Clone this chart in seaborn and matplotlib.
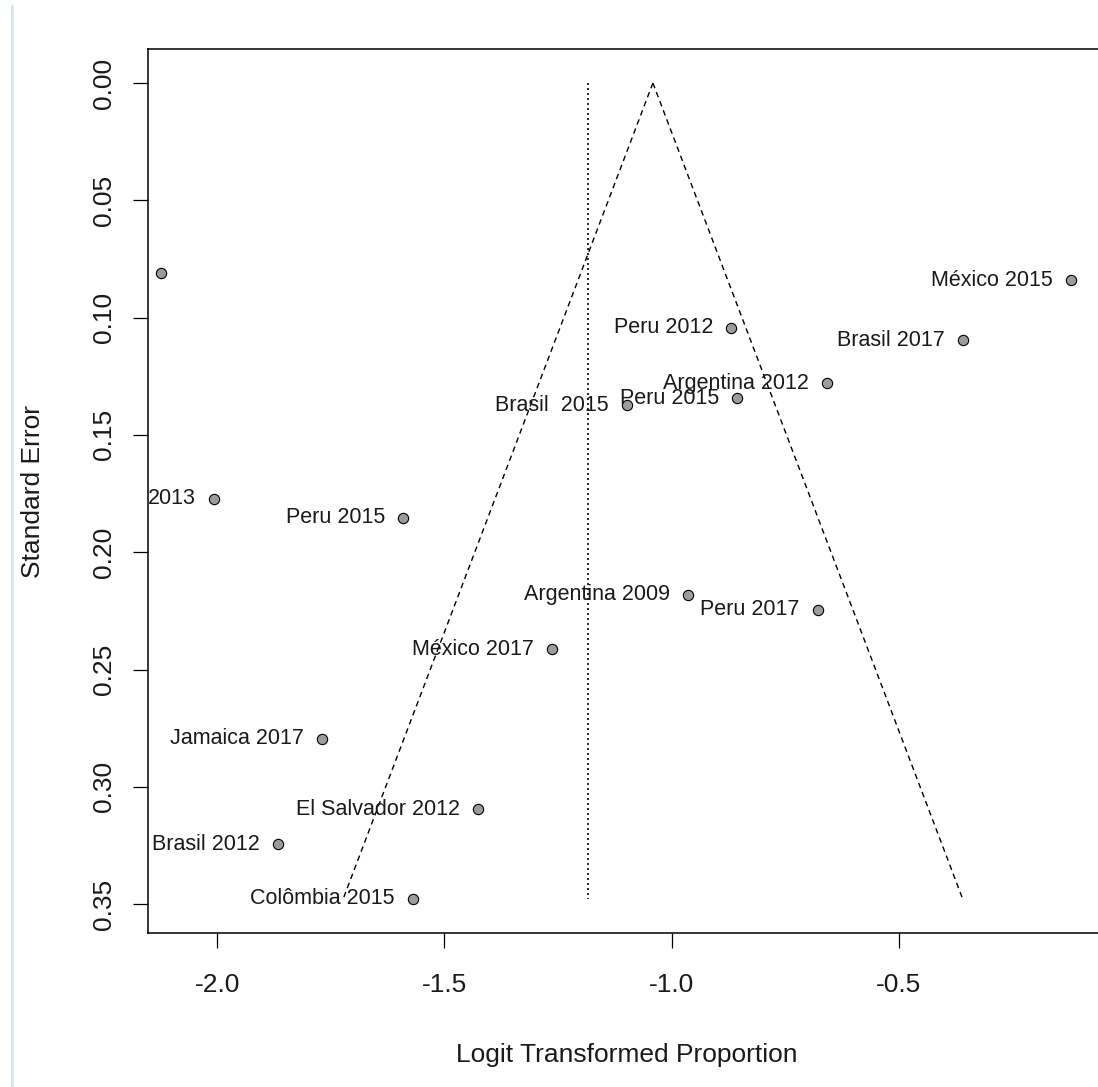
import numpy as np
import pandas as pd
import matplotlib
matplotlib.use("Agg")
import matplotlib.pyplot as plt
import seaborn as sns
from matplotlib.lines import Line2D

# Study estimates
studies = ["", "2013", "Peru 2015", "Jamaica 2017", "El Salvador 2012", "Brasil 2012",
           "Colômbia 2015", "México 2017", "Argentina 2009", "Peru 2017", "Brasil  2015",
           "Peru 2015", "Argentina 2012", "Peru 2012", "Brasil 2017", "México 2015"]
logit_prop = [-2.123, -2.007, -1.591, -1.769, -1.426, -1.866,
              -1.569, -1.263, -0.964, -0.678, -1.098,
              -0.856, -0.658, -0.869, -0.359, -0.121]
std_err = [0.081, 0.1773, 0.1854, 0.2796, 0.3095, 0.3244,
           0.3478, 0.2413, 0.2182, 0.2246, 0.1373,
           0.1343, 0.1279, 0.1044, 0.1096, 0.0840]

# pooled estimates (funnel apex and reference line)
funnel_center = -1.041
ref_line = -1.184
z = 1.96

df = pd.DataFrame({"study": studies, "x": logit_prop, "se": std_err})

sns.set_style("ticks")
plt.rcParams["font.family"] = ["Liberation Sans", "DejaVu Sans"]

fig = plt.figure(figsize=(10.98, 10.87), dpi=100)
ax = fig.add_axes([148 / 1098, 1 - 933 / 1087, 958 / 1098, 884 / 1087])

# funnel
se_max = df["se"].max()
se_line = np.array([0, se_max])
ax.plot(funnel_center - z * se_line, se_line, color="black", lw=1.0, ls=(0, (4, 3)))
ax.plot(funnel_center + z * se_line, se_line, color="black", lw=1.0, ls=(0, (4, 3)))
ax.plot([ref_line, ref_line], se_line, color="black", lw=1.2, ls=(0, (1.2, 1.8)))

sns.scatterplot(data=df, x="x", y="se", ax=ax, color="#9c9c9c", edgecolor="black",
                linewidth=0.8, s=55, zorder=3, legend=False)

for _, r in df.iterrows():
    if r["study"]:
        ax.annotate(r["study"], (r["x"], r["se"]), xytext=(-13, 0), textcoords="offset points",
                    ha="right", va="center", fontsize=15.5, color="#1a1a1a",
                    annotation_clip=False, clip_on=True)

ax.set_xlim(-2.152, -0.044)
ax.set_ylim(0.3623, -0.0145)
ax.set_xticks([-2.0, -1.5, -1.0, -0.5])
ax.set_xticklabels(["-2.0", "-1.5", "-1.0", "-0.5"], fontsize=19, color="#1a1a1a")
yt = [0.00, 0.05, 0.10, 0.15, 0.20, 0.25, 0.30, 0.35]
ax.set_yticks(yt)
ax.set_yticklabels([f"{v:.2f}" for v in yt], fontsize=19, rotation=90, va="center",
                   color="#1a1a1a")
ax.tick_params(axis="both", length=11, width=0.9, color="black")
ax.tick_params(axis="x", pad=18)
ax.tick_params(axis="y", pad=12)

for s in ax.spines.values():
    s.set_visible(True)
    s.set_color("black")
    s.set_linewidth(1.1)

ax.set_xlabel("Logit Transformed Proportion", fontsize=19, color="#1a1a1a")
ax.set_ylabel("Standard Error", fontsize=19, color="#1a1a1a")
ax.xaxis.set_label_coords(0.5, -0.138)
ax.xaxis.label.set_va("center")
ax.yaxis.set_label_coords(-0.120, 0.5)
ax.yaxis.label.set_va("center")

# thin border of the original screenshot
fig.add_artist(Line2D([12 / 1098, 12 / 1098], [0, 1 - 6 / 1087], color="#d8e4ec", lw=2))

fig.savefig("out.png", dpi=100)
